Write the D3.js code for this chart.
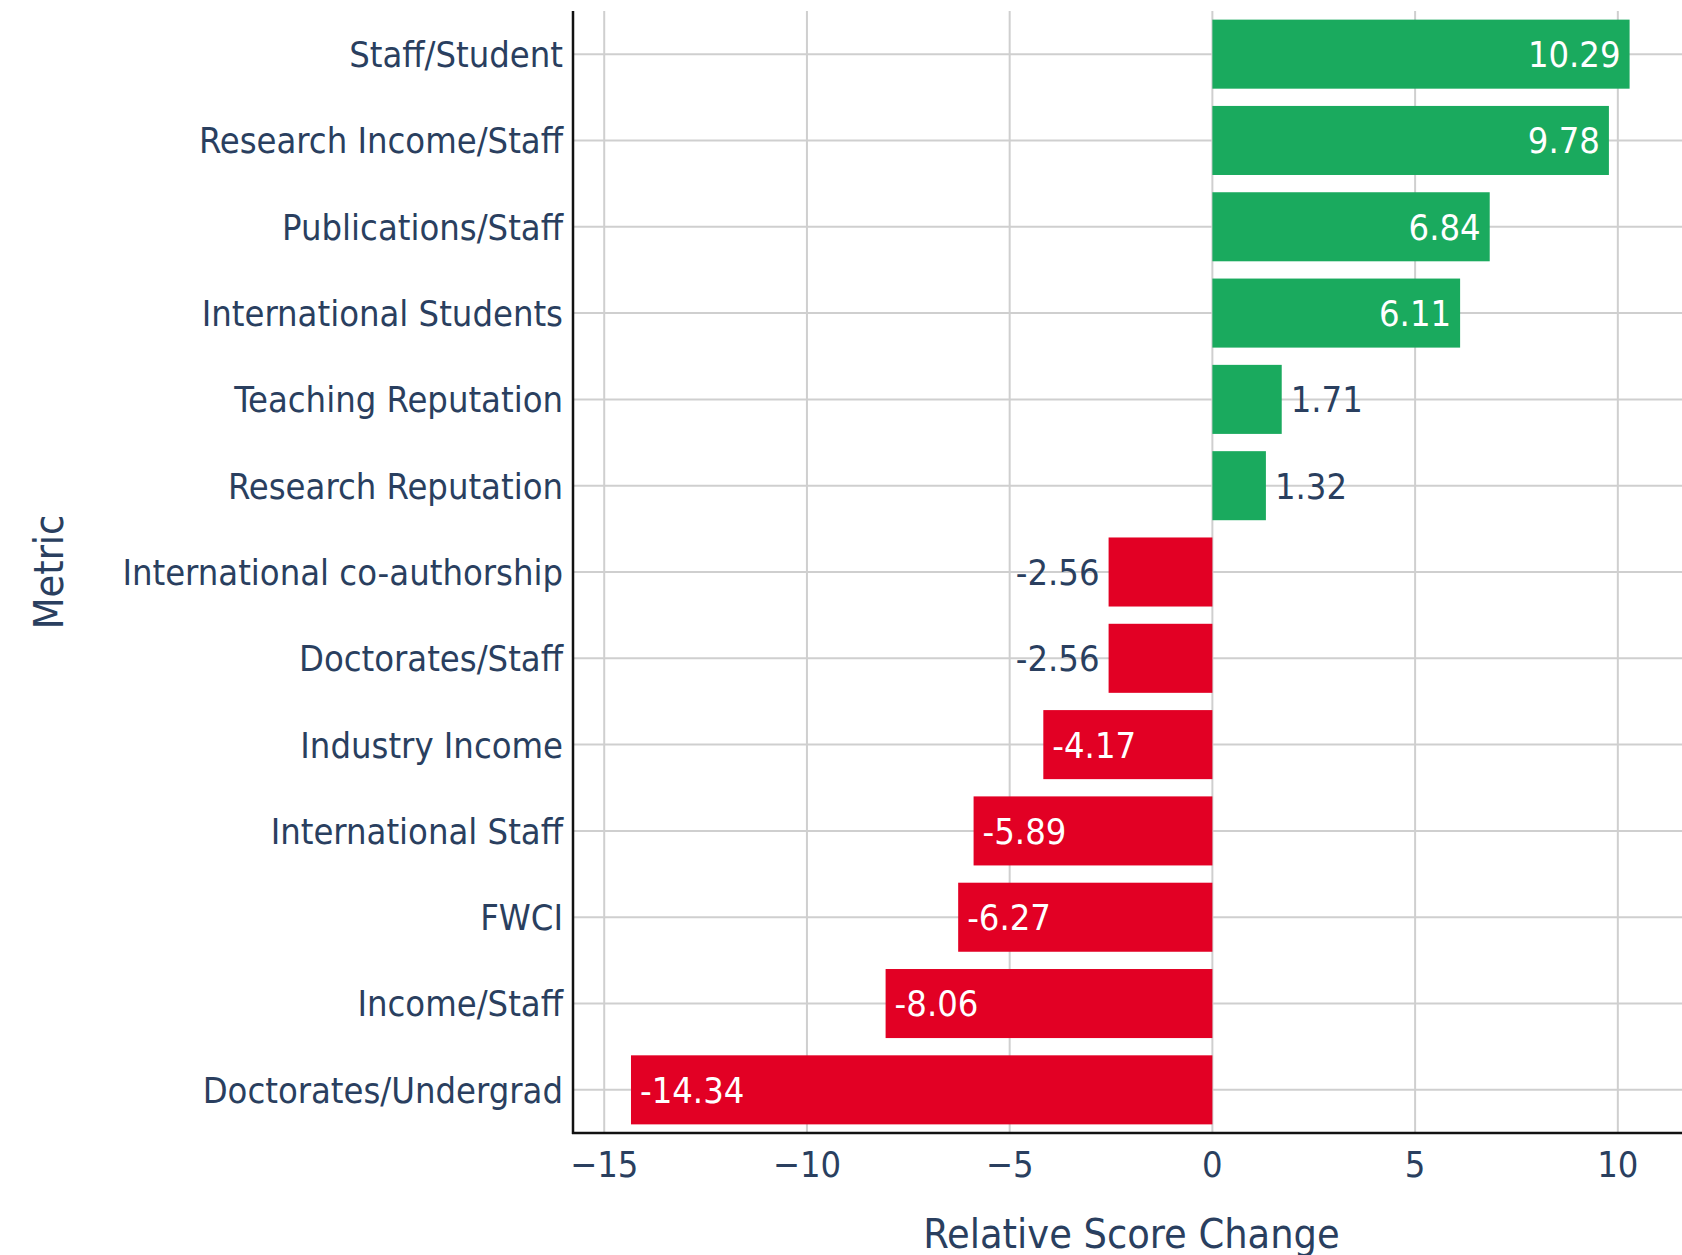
<!DOCTYPE html>
<html>
<head>
<meta charset="utf-8">
<script src="https://cdn.jsdelivr.net/npm/d3@7"></script>
<style>
  body { margin: 0; background: #fff; }
  text { font-family: 'DejaVu Sans Condensed', 'DejaVu Sans', sans-serif; font-stretch: condensed; }
</style>
</head>
<body>
<script>
// metrics, top to bottom
var metrics = ['Staff/Student', 'Research Income/Staff', 'Publications/Staff', 'International Students',
    'Teaching Reputation', 'Research Reputation', 'International co-authorship', 'Doctorates/Staff',
    'Industry Income', 'International Staff', 'FWCI', 'Income/Staff', 'Doctorates/Undergrad'];
var changes = [10.29, 9.78, 6.84, 6.11, 1.71, 1.32, -2.56, -2.56, -4.17, -5.89, -6.27, -8.06, -14.34];
var xticks = [-15, -10, -5, 0, 5, 10];

var width = 1682, height = 1255,
    plotLeft = 573, plotTop = 11, plotRight = 1690, plotBottom = 1133,
    textcol = '#2a3f5f', green = '#1aaa5e', red = '#e20024';

var svg = d3.select('body').append('svg')
    .attr('width', width)
    .attr('height', height);

//scales
var xscale = d3.scaleLinear().domain([-15.77, 11.78]).range([plotLeft, plotRight]);
var yscale = d3.scaleBand().domain(metrics).range([plotTop, plotBottom])
    .paddingInner(0.2).paddingOuter(0.1);

function mid(d) { return yscale(d) + yscale.bandwidth() / 2; }

//gridlines
svg.append('g').selectAll('line')
    .data(xticks)
    .enter().append('line')
        .attr('x1', function (d) { return xscale(d); })
        .attr('x2', function (d) { return xscale(d); })
        .attr('y1', plotTop)
        .attr('y2', plotBottom)
        .style('stroke', '#cfcfcf')
        .style('stroke-width', 2);

svg.append('g').selectAll('line')
    .data(metrics)
    .enter().append('line')
        .attr('x1', plotLeft)
        .attr('x2', width)
        .attr('y1', mid)
        .attr('y2', mid)
        .style('stroke', '#cfcfcf')
        .style('stroke-width', 2);

//bars
var rows = metrics.map(function (m, i) { return { name: m, value: changes[i] }; });

svg.append('g').selectAll('rect')
    .data(rows)
    .enter().append('rect')
        .attr('x', function (d) { return xscale(Math.min(0, d.value)); })
        .attr('y', function (d) { return yscale(d.name); })
        .attr('width', function (d) { return Math.abs(xscale(d.value) - xscale(0)); })
        .attr('height', yscale.bandwidth())
        .style('fill', function (d) { return d.value >= 0 ? green : red; });

//value labels, inside the bar end when they fit
var labels = svg.append('g').selectAll('text')
    .data(rows)
    .enter().append('text')
        .attr('y', function (d) { return mid(d.name); })
        .attr('dy', '0.36em')
        .attr('font-size', 36)
        .text(function (d) { return d.value.toFixed(2); });

labels.each(function (d) {
    var t = d3.select(this),
        w = this.getComputedTextLength(),
        barw = Math.abs(xscale(d.value) - xscale(0)),
        inside = w + 32 < barw,
        end = xscale(d.value);
    if (d.value >= 0) {
        t.attr('x', inside ? end - 9 : end + 9)
         .attr('text-anchor', inside ? 'end' : 'start');
    } else {
        t.attr('x', inside ? end + 9 : end - 9)
         .attr('text-anchor', inside ? 'start' : 'end');
    }
    t.style('fill', inside ? '#fff' : textcol);
});

//axes lines
svg.append('line')
    .attr('x1', plotLeft).attr('x2', plotLeft)
    .attr('y1', plotTop).attr('y2', plotBottom + 1)
    .style('stroke', '#111').style('stroke-width', 2.5);
svg.append('line')
    .attr('x1', plotLeft - 1).attr('x2', width)
    .attr('y1', plotBottom).attr('y2', plotBottom)
    .style('stroke', '#111').style('stroke-width', 2.5);

//tick labels
svg.append('g').selectAll('text')
    .data(metrics)
    .enter().append('text')
        .attr('x', plotLeft - 10)
        .attr('y', mid)
        .attr('dy', '0.36em')
        .attr('text-anchor', 'end')
        .attr('font-size', 36)
        .style('fill', textcol)
        .text(function (d) { return d; });

svg.append('g').selectAll('text')
    .data(xticks)
    .enter().append('text')
        .attr('x', function (d) { return xscale(d); })
        .attr('y', 1177)
        .attr('text-anchor', 'middle')
        .attr('font-size', 36)
        .style('fill', textcol)
        .text(function (d) { return d < 0 ? '\u2212' + Math.abs(d) : d; });

//axis titles
svg.append('text')
    .attr('x', (plotLeft + plotRight) / 2)
    .attr('y', 1248)
    .attr('text-anchor', 'middle')
    .attr('font-size', 41)
    .style('fill', textcol)
    .text('Relative Score Change');

svg.append('text')
    .attr('transform', 'translate(63,' + (plotTop + plotBottom) / 2 + ') rotate(-90)')
    .attr('text-anchor', 'middle')
    .attr('font-size', 41)
    .style('fill', textcol)
    .text('Metric');
</script>
</body>
</html>
